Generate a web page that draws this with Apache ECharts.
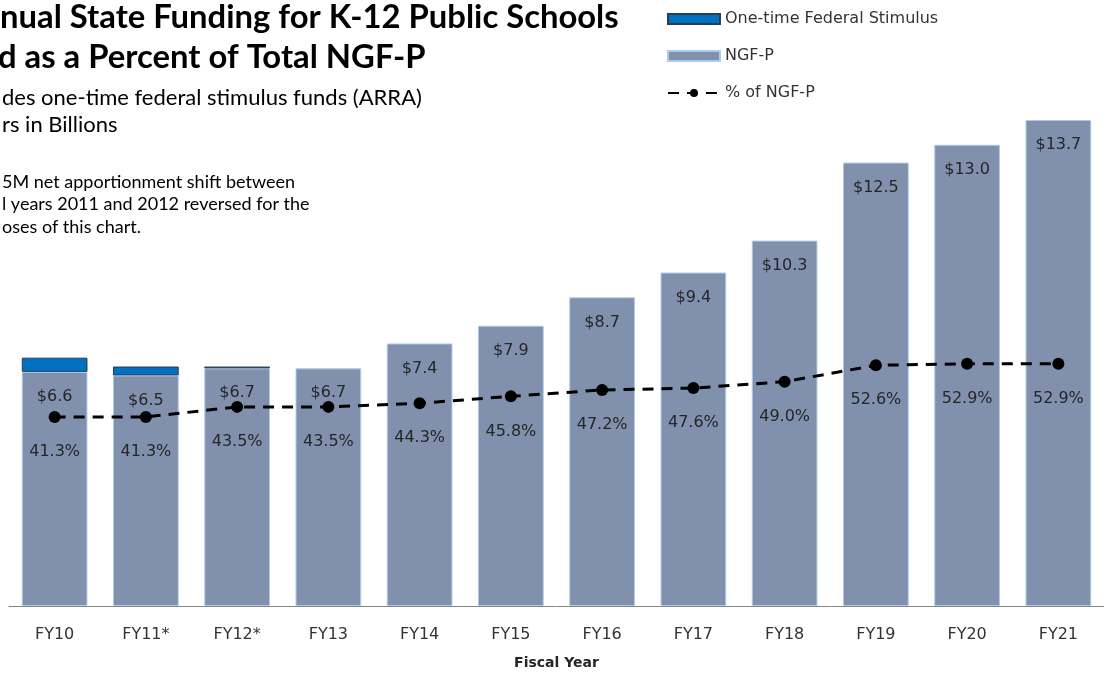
<!DOCTYPE html>
<html>
<head>
<meta charset="utf-8">
<script src="https://cdn.jsdelivr.net/npm/echarts@6/dist/echarts.min.js"></script>
<style>
html,body{margin:0;padding:0;background:#fff;}
#chart{width:1104px;height:675px;}
</style>
</head>
<body>
<div id="chart"></div>
<script>
// ---- data ----
const categories = ['FY10','FY11*','FY12*','FY13','FY14','FY15','FY16','FY17','FY18','FY19','FY20','FY21'];
const ngfp = [6.6, 6.5, 6.7, 6.7, 7.4, 7.9, 8.7, 9.4, 10.3, 12.5, 13.0, 13.7];
const stimulus = [0.4, 0.25, 0.05, null, null, null, null, null, null, null, null, null];
const pctNgfp = [41.3, 41.3, 43.5, 43.5, 44.3, 45.8, 47.2, 47.6, 49.0, 52.6, 52.9, 52.9];
const seriesNames = ['One-time Federal Stimulus', 'NGF-P', '% of NGF-P'];
const titleLines = ['nual State Funding for K-12 Public Schools', 'd as a Percent of Total NGF-P'];
const subtitleLines = ['des one-time federal stimulus funds (ARRA)', 'rs in Billions'];
const noteLines = ['5M net apportionment shift between', 'l years 2011 and 2012 reversed for the', 'oses of this chart.'];
const xAxisName = 'Fiscal Year';

const chart = echarts.init(document.getElementById('chart'), null, {renderer: 'canvas'});
const F = 'DejaVu Sans';

const graphics = [];
const titleY = [17, 57];
const titleX = [0, -2];
titleLines.forEach((t, i) => graphics.push({type:'text', style:{text:t, x:titleX[i], y:titleY[i], font:'bold 32.8px Lato', fill:'#000', textVerticalAlign:'middle'}}));
const subY = [98, 125];
subtitleLines.forEach((t, i) => graphics.push({type:'text', style:{text:t, x:2, y:subY[i], font:'22px Lato', fill:'#000', textVerticalAlign:'middle'}}));
const noteY = [182, 204, 227];
noteLines.forEach((t, i) => graphics.push({type:'text', style:{text:t, x:2, y:noteY[i], font:'18px Lato', fill:'#000', textVerticalAlign:'middle'}}));

chart.setOption({
  animation: false,
  backgroundColor: '#ffffff',
  graphic: graphics,
  legend: {
    orient: 'vertical',
    left: 662,
    top: 4,
    itemWidth: 52,
    itemHeight: 10,
    itemGap: 17,
    textStyle: {fontFamily: F, fontSize: 16, color: '#333333', lineHeight: 20},
    data: [
      {name: seriesNames[0], icon: 'rect'},
      {name: seriesNames[1], icon: 'rect'},
      {name: seriesNames[2]}
    ]
  },
  grid: {left: 9, top: 38.4, width: 1102, height: 569.6, containLabel: false},
  xAxis: {
    type: 'category',
    data: categories,
    axisLine: {lineStyle: {color: '#868686', width: 1}},
    axisTick: {length: 5, lineStyle: {color: '#868686'}},
    axisLabel: {fontFamily: F, fontSize: 16, color: '#333333', margin: 21},
    name: xAxisName,
    nameLocation: 'middle',
    nameGap: 50,
    nameTextStyle: {fontFamily: F, fontSize: 14, fontWeight: 'bold', color: '#262626'}
  },
  yAxis: [
    {type: 'value', min: 0, max: 16, show: false},
    {type: 'value', min: 0, max: 124, show: false}
  ],
  series: [
    {
      name: seriesNames[1],
      type: 'bar',
      stack: 'funds',
      barWidth: '72%',
      data: ngfp,
      itemStyle: {color: '#8190AD', borderColor: '#A9CCEA', borderWidth: 1},
      label: {
        show: true,
        position: 'insideTop',
        distance: 17,
        fontFamily: F,
        fontSize: 16,
        color: '#262626',
        formatter: p => '$' + p.value.toFixed(1)
      },
      z: 2
    },
    {
      name: seriesNames[0],
      type: 'bar',
      stack: 'funds',
      barWidth: '72%',
      data: stimulus,
      itemStyle: {color: '#0070C0', borderColor: '#2A3B52', borderWidth: 1},
      z: 2
    },
    {
      name: seriesNames[2],
      type: 'line',
      yAxisIndex: 1,
      data: pctNgfp,
      symbol: 'circle',
      symbolSize: 12,
      itemStyle: {color: '#000'},
      lineStyle: {color: '#000', width: 3, type: [11, 8]},
      label: {
        show: true,
        position: 'bottom',
        distance: 21,
        fontFamily: F,
        fontSize: 16,
        color: '#262626',
        formatter: p => p.value.toFixed(1) + '%'
      },
      z: 5
    }
  ]
});
</script>
</body>
</html>
